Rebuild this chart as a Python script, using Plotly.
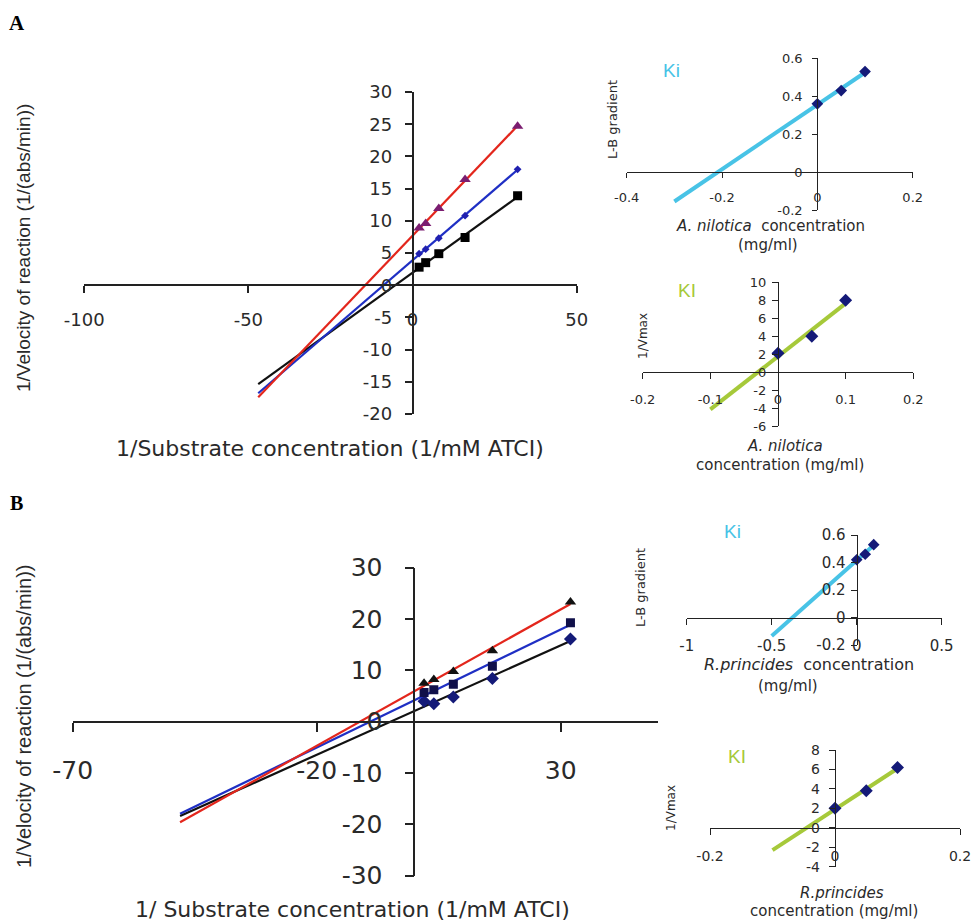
import numpy as np
import plotly.graph_objects as go

W, H = 972, 924

# ---------------- data ----------------
substrate_x = [2, 4, 8, 16, 32]          # 1/[ATCI]

# Panel A (A. nilotica) - Lineweaver-Burk
A_ctrl_y = [2.8, 3.5, 4.9, 7.4, 13.9]    # black squares
A_low_y = [4.9, 5.6, 7.3, 10.8, 18.0]    # blue diamonds
A_high_y = [8.9, 9.6, 11.9, 16.4, 24.7]  # purple triangles
A_forecast_from = -47

# Panel B (R. princides) - Lineweaver-Burk
B_ctrl_y = [4.0, 3.5, 4.8, 8.4, 16.1]    # navy diamonds, black line
B_low_y = [5.7, 6.2, 7.3, 10.8, 19.3]    # squares, blue line
B_high_y = [7.5, 8.2, 9.8, 13.8, 23.3]   # triangles, red line
B_forecast_from = -48

# secondary plots
extract_conc = [0, 0.05, 0.1]
A_gradient = [0.36, 0.43, 0.53]
A_gradient_from = -0.3
A_inv_vmax = [2.1, 4.0, 8.0]
A_inv_vmax_from = -0.1
B_gradient = [0.42, 0.46, 0.53]
B_gradient_from = -0.5
B_inv_vmax = [2.0, 3.8, 6.2]
B_inv_vmax_from = -0.1

# tick values (labels are written with a plain hyphen as in the original)
A_main_xticks = [-100, -50, 0, 50]
A_main_yticks = [-20, -15, -10, -5, 0, 5, 10, 15, 20, 25, 30]
B_main_xticks = [-70, -20, 30]
B_main_yticks = [-30, -20, -10, 0, 10, 20, 30]
A_ki_xticks = [-0.4, -0.2, 0, 0.2]
A_ki_yticks = [-0.2, 0, 0.2, 0.4, 0.6]
A_kI_xticks = [-0.2, -0.1, 0, 0.1, 0.2]
A_kI_yticks = [-6, -4, -2, 0, 2, 4, 6, 8, 10]
B_ki_xticks = [-1, -0.5, 0, 0.5]
B_ki_yticks = [-0.2, 0, 0.2, 0.4, 0.6]
B_kI_xticks = [-0.2, 0, 0.2]
B_kI_yticks = [-4, -2, 0, 2, 4, 6, 8]

# ---------------- styling ----------------
SANS = "DejaVu Sans"
ARIAL = "Liberation Sans, Arial"
TXT = "#2a2a2a"
RED = "#e3261c"
BLUE = "#1f2fc4"
BLACK = "#111111"
NAVY = "#141a78"
CYAN = "#48c3e6"
LIME = "#a6c93a"

fig = go.Figure()

# subplot boxes: (left, right, top, bottom) in px
panels = [
    dict(box=(84.2, 576.7, 92.0, 414.0), xr=[-100, 50], yr=[-20, 30],
         xt=A_main_xticks, yt=A_main_yticks, fs=18, tl=7, sx=11, sy=9, lw=1.6),
    dict(box=(72.7, 658.3, 567.7, 875.7), xr=[-70, 50], yr=[-30, 30],
         xt=B_main_xticks, yt=B_main_yticks, fs=25, tl=9, sx=17, sy=17, lw=1.6),
    dict(box=(626.7, 912.7, 58.3, 210.0), xr=[-0.4, 0.2], yr=[-0.2, 0.6],
         xt=A_ki_xticks, yt=A_ki_yticks, fs=13, tl=5, sx=8, sy=7, lw=1.4),
    dict(box=(642.7, 913.3, 282.3, 426.0), xr=[-0.2, 0.2], yr=[-6, 10],
         xt=A_kI_xticks, yt=A_kI_yticks, fs=13, tl=6, sx=9, sy=3, lw=1.4),
    dict(box=(686.7, 941.7, 535.0, 645.0), xr=[-1, 0.5], yr=[-0.2, 0.6],
         xt=B_ki_xticks, yt=B_ki_yticks, fs=15, tl=6, sx=8, sy=2, lw=1.4),
    dict(box=(710.0, 960.0, 750.0, 866.7), xr=[-0.2, 0.2], yr=[-4, 8],
         xt=B_kI_xticks, yt=B_kI_yticks, fs=14, tl=6, sx=9, sy=6, lw=1.4),
]


def fx(px):
    return px / W


def fy(py):
    return 1 - py / H


def lab(v):
    return f"{v:g}"


layout_axes = {}
for i, p in enumerate(panels, start=1):
    l, r, t, b = p["box"]
    xd = [fx(l), fx(r)]
    yd = [fy(b), fy(t)]
    x0pos = yd[0] + (0 - p["yr"][0]) / (p["yr"][1] - p["yr"][0]) * (yd[1] - yd[0])
    y0pos = xd[0] + (0 - p["xr"][0]) / (p["xr"][1] - p["xr"][0]) * (xd[1] - xd[0])
    sfx = "" if i == 1 else str(i)
    common = dict(showgrid=False, zeroline=False, showline=True, linecolor="#222",
                  linewidth=p["lw"], ticks="outside", ticklen=p["tl"], tickwidth=p["lw"],
                  tickcolor="#222", tickmode="array", automargin=False,
                  tickfont=dict(family=SANS, size=p["fs"], color=TXT), fixedrange=True)
    layout_axes["xaxis" + sfx] = dict(common, domain=xd, range=p["xr"], anchor="free",
                                      position=x0pos, tickvals=p["xt"],
                                      ticktext=[lab(v) for v in p["xt"]],
                                      ticklabelstandoff=p["sx"])
    layout_axes["yaxis" + sfx] = dict(common, domain=yd, range=p["yr"], anchor="free",
                                      position=y0pos, tickvals=p["yt"],
                                      ticktext=[lab(v) for v in p["yt"]],
                                      ticklabelstandoff=p["sy"])


def ref(i):
    return ("x", "y") if i == 1 else ("x" + str(i), "y" + str(i))


def trend(xs, ys, x_from):
    k, c = np.polyfit(np.asarray(xs, float), np.asarray(ys, float), 1)
    xx = np.array([x_from, max(xs)], float)
    return xx, k * xx + c


def add_series(i, xs, ys, x_from, line_color, line_w, marker_sym, marker_color, marker_size):
    xr_, yr_ = ref(i)
    tx, ty = trend(xs, ys, x_from)
    fig.add_trace(go.Scatter(x=tx, y=ty, mode="lines", xaxis=xr_, yaxis=yr_,
                             line=dict(color=line_color, width=line_w), showlegend=False,
                             hoverinfo="skip"))
    fig.add_trace(go.Scatter(x=xs, y=ys, mode="markers", xaxis=xr_, yaxis=yr_,
                             marker=dict(symbol=marker_sym, color=marker_color, size=marker_size,
                                         line=dict(width=0)), showlegend=False))


# Panel A main
add_series(1, substrate_x, A_ctrl_y, A_forecast_from, BLACK, 2.2, "square", "#000000", 9)
add_series(1, substrate_x, A_low_y, A_forecast_from, BLUE, 2.2, "diamond", "#2020b0", 6)
add_series(1, substrate_x, A_high_y, A_forecast_from, RED, 2.2, "triangle-up", "#7b1d70", 10)

# Panel B main
add_series(2, substrate_x, B_ctrl_y, B_forecast_from, BLACK, 2.2, "diamond", NAVY, 10)
add_series(2, substrate_x, B_low_y, B_forecast_from, BLUE, 2.2, "square", "#10104a", 9)
add_series(2, substrate_x, B_high_y, B_forecast_from, RED, 2.2, "triangle-up", "#111111", 10)

# secondary plots
add_series(3, extract_conc, A_gradient, A_gradient_from, CYAN, 4, "diamond", NAVY, 9)
add_series(4, extract_conc, A_inv_vmax, A_inv_vmax_from, LIME, 4, "diamond", NAVY, 10)
add_series(5, extract_conc, B_gradient, B_gradient_from, CYAN, 4, "diamond", NAVY, 9)
add_series(6, extract_conc, B_inv_vmax, B_inv_vmax_from, LIME, 4, "diamond", NAVY, 10)


def ann(text, x, y, size, family=SANS, color=TXT, angle=0, **kw):
    return dict(text=text, x=fx(x), y=fy(y), xref="paper", yref="paper",
                showarrow=False, textangle=angle, xanchor="center", yanchor="middle",
                font=dict(family=family, size=size, color=color), **kw)


annotations = [
    ann("<b>A</b>", 17, 23, 21, family="Liberation Serif, Times New Roman", color="#000"),
    ann("<b>B</b>", 16, 503, 20, family="Liberation Serif, Times New Roman", color="#000"),
    # main A
    ann("1/Velocity of reaction (1/(abs/min))", 23, 248, 19, family=ARIAL, angle=-90),
    ann("1/Substrate concentration (1/mM ATCI)", 330, 448, 22),
    # main B
    ann("1/Velocity of reaction (1/(abs/min))", 24, 717, 20, family=ARIAL, angle=-90),
    ann("1/ Substrate concentration (1/mM ATCI)", 352, 909, 22),
    # Ki A
    ann("Ki", 671, 70, 19, family=ARIAL, color=CYAN),
    ann("L-B gradient", 612, 120, 13, angle=-90),
    ann("<i>A. nilotica</i>  concentration", 770, 226, 15),
    ann("(mg/ml)", 768, 245, 15),
    # KI A
    ann("KI", 687, 290, 19, family=ARIAL, color=LIME),
    ann("1/Vmax", 643, 336, 12, angle=-90),
    ann("<i>A. nilotica</i>", 785, 446, 15),
    ann("concentration (mg/ml)", 780, 465, 15),
    # Ki B
    ann("Ki", 732, 531, 19, family=ARIAL, color=CYAN),
    ann("L-B gradient", 640, 588, 13, angle=-90),
    ann("<i>R.princides</i>  concentration", 809, 664, 16),
    ann("(mg/ml)", 788, 686, 15),
    # KI B
    ann("KI", 737, 756, 19, family=ARIAL, color=LIME),
    ann("1/Vmax", 671, 808, 12, angle=-90),
    ann("<i>R.princides</i>", 842, 893, 15),
    ann("concentration (mg/ml)", 834, 911, 15),
]

fig.update_layout(
    width=W, height=H,
    margin=dict(l=0, r=0, t=0, b=0, autoexpand=False),
    paper_bgcolor="white", plot_bgcolor="rgba(0,0,0,0)",
    showlegend=False,
    annotations=annotations,
    **layout_axes,
)

# let the figure fill the page exactly (no default body margin), no toolbar
fig.write_html("out.html", config={"displayModeBar": False},
               post_script="document.body.style.margin='0';"
                           "document.body.style.overflow='hidden';")
